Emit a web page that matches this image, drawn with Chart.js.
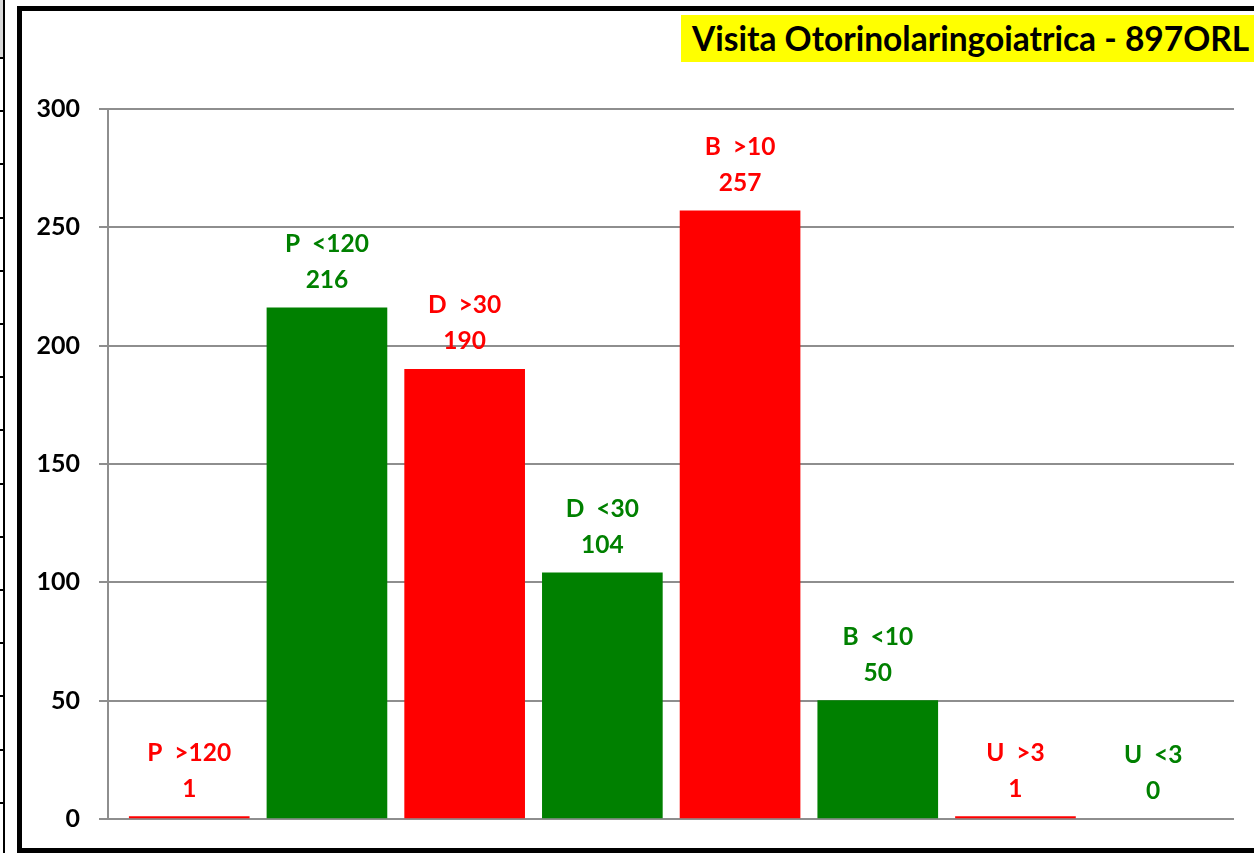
<!DOCTYPE html>
<html>
<head>
<meta charset="utf-8">
<script src="https://cdn.jsdelivr.net/npm/chart.js@4/dist/chart.umd.min.js"></script>
<style>
    html, body { margin: 0; padding: 0; background: #fff; overflow: hidden; }
    #wrap { position: relative; width: 1254px; height: 853px; overflow: hidden; }
    #myChart { position: absolute; left: 0; top: 0; }
    #frame {
        position: absolute; left: 17px; top: 6px; width: 1300px; height: 847px;
        border: 5px solid #000; box-sizing: border-box; pointer-events: none;
    }
    #titolo {
        position: absolute; left: 681px; top: 15px; width: 600px; height: 47px;
        background: #ffff00; color: #000; font: bold 33.5px Lato, sans-serif;
        line-height: 47px; padding-left: 11px; white-space: nowrap; box-sizing: border-box;
    }
    #striscia { position: absolute; left: 0; top: 0; width: 6px; height: 853px; }
    #striscia .fondo { position: absolute; left: 0; top: 0; width: 3px; height: 58px; background: #d9d9d9; }
    #striscia .riga { position: absolute; left: 3px; top: 0; width: 2px; height: 853px; background: #000; }
    #striscia .tacca { position: absolute; left: 0; width: 5px; height: 2px; background: #000; }
</style>
</head>
<body>
<div id="wrap">
    <canvas id="myChart" width="1254" height="853"></canvas>
    <div id="striscia"><div class="fondo"></div><div class="riga"></div></div>
    <div id="frame"></div>
    <div id="titolo">Visita Otorinolaringoiatrica - 897ORL</div>
</div>
<script>
    // categorie e valori
    const categorie = ['P  >120', 'P  <120', 'D  >30', 'D  <30', 'B  >10', 'B  <10', 'U  >3', 'U  <3'];
    const valori = [1, 216, 190, 104, 257, 50, 1, 0];
    const tickAsseY = [0, 50, 100, 150, 200, 250, 300];

    const ROSSO = '#ff0000';
    const VERDE = '#008000';
    // ">" = fuori soglia -> rosso, "<" = entro soglia -> verde
    const colore = (c) => c.includes('>') ? ROSSO : VERDE;

    // tacche della striscia a sinistra (solo decorazione)
    const striscia = document.getElementById('striscia');
    for (let y = 58; y < 853; y += 53.2) {
        const t = document.createElement('div');
        t.className = 'tacca';
        t.style.top = Math.round(y - 1) + 'px';
        striscia.appendChild(t);
    }

    const etichette = {
        id: 'etichette',
        afterDatasetsDraw(chart) {
            const { ctx } = chart;
            const meta = chart.getDatasetMeta(0);
            ctx.save();
            ctx.font = 'bold 24.5px Lato, sans-serif';
            ctx.textAlign = 'center';
            ctx.textBaseline = 'middle';
            meta.data.forEach((bar, i) => {
                ctx.fillStyle = colore(categorie[i]);
                ctx.fillText(categorie[i], bar.x, bar.y - 64);
                ctx.fillText(String(valori[i]), bar.x, bar.y - 28);
            });
            ctx.restore();
        }
    };

    const data = {
        datasets: [{
            label: 'Visita Otorinolaringoiatrica',
            data: valori.map((v, i) => ({ x: i, y: v })),
            // barra a zero: niente da disegnare
            backgroundColor: (c) => valori[c.dataIndex] === 0 ? 'rgba(0,0,0,0)' : colore(categorie[c.dataIndex]),
            borderWidth: 0,
            barThickness: 120
        }]
    };

    const config = {
        type: 'bar',
        data: data,
        options: {
            responsive: false,
            animation: false,
            devicePixelRatio: 1,
            layout: { padding: { left: 0, right: 20, top: 109, bottom: 32 } },
            plugins: {
                legend: { display: false },
                title: { display: false },
                tooltip: { enabled: false }
            },
            scales: {
                x: {
                    type: 'linear',
                    offset: false,
                    min: -0.59,
                    max: 7.587,
                    afterBuildTicks: (scale) => { scale.ticks = categorie.map((c, i) => ({ value: i })); },
                    display: false
                },
                y: {
                    min: 0,
                    max: 300,
                    afterBuildTicks: (scale) => { scale.ticks = tickAsseY.map(v => ({ value: v })); },
                    afterFit: (scale) => { scale.width = 108; },
                    ticks: {
                        color: '#000',
                        padding: 19,
                        font: { family: 'Lato, sans-serif', size: 25, weight: 'bold' }
                    },
                    grid: { color: '#8e8e8e', lineWidth: 2, tickLength: 9 },
                    border: { display: true, color: '#8e8e8e', width: 2 }
                }
            }
        },
        plugins: [etichette]
    };

    const myChart = new Chart(document.getElementById('myChart'), config);
</script>
</body>
</html>
